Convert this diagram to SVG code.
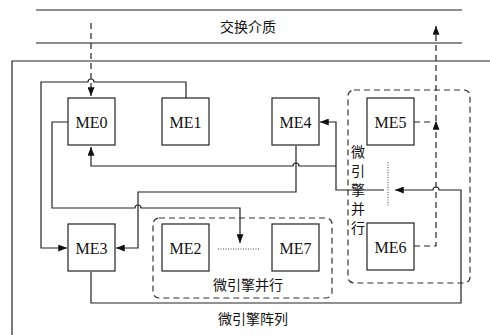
<svg xmlns="http://www.w3.org/2000/svg" width="490" height="335" viewBox="0 0 490 335">
<style>
.box{fill:#fff;stroke:#222;stroke-width:1.2}
.me{font-family:"Liberation Serif","Times New Roman","DejaVu Serif",serif;font-size:16px;fill:#111;text-anchor:middle}
.cn{font-family:"Noto Sans CJK SC",sans-serif;font-size:14px;fill:#111;text-anchor:middle}
.ln{fill:none;stroke:#222;stroke-width:1.2}
.dash{fill:none;stroke:#222;stroke-width:1.2;stroke-dasharray:6,4}
.dot{fill:none;stroke:#444;stroke-width:1;stroke-dasharray:1,1.5}
.grp{fill:none;stroke:#333;stroke-width:1.2;stroke-dasharray:6,4}
</style>
<defs>
<marker id="ah" viewBox="0 0 10 8" markerWidth="9" markerHeight="7" refX="10" refY="4" orient="auto" markerUnits="userSpaceOnUse">
<path d="M0,0 L10,4 L0,8 z" fill="#111"/>
</marker>
</defs>
<g id="medium">
<line x1="36" y1="10" x2="462" y2="10" stroke="#222" stroke-width="1.2"/>
<line x1="36" y1="43" x2="462" y2="43" stroke="#666" stroke-width="1.5"/>
<text class="cn" x="248" y="32" font-size="15">交换介质</text>
</g>
<g id="array">
<path class="ln" d="M490,61 H12 V335"/>
<text class="cn" x="253" y="324">微引擎阵列</text>
</g>
<g id="group1">
<rect class="grp" x="153" y="218" width="179" height="80" rx="6"/>
<text class="cn" x="248" y="290">微引擎并行</text>
</g>
<g id="group2">
<rect class="grp" x="348" y="90" width="122" height="193" rx="6"/>
<text class="cn" x="358" y="157">微</text>
<text class="cn" x="358" y="176">引</text>
<text class="cn" x="358" y="195">擎</text>
<text class="cn" x="358" y="214">并</text>
<text class="cn" x="358" y="233">行</text>
</g>
<g id="connectors">
<path class="dash" d="M91,23 V96" marker-end="url(#ah)"/>
<path class="ln" d="M186,98 V82 H94 a3,3 0 0 0 -6,0 H41 V248 H67" marker-end="url(#ah)"/>
<path class="ln" d="M68,122 H52 V208 H135 a3,3 0 0 1 6,0 H240 V243" marker-end="url(#ah)"/>
<path class="ln" d="M296,146 V192 H138 V248 H116" marker-end="url(#ah)"/>
<path class="ln" d="M336,166 H299 a3,3 0 0 0 -6,0 H91 V147" marker-end="url(#ah)"/>
<path class="ln" d="M384,190 H336 V122 H320" marker-end="url(#ah)"/>
<path class="ln" d="M91,272 V303 H461 V190 H439 a3,3 0 0 0 -6,0 H395" marker-end="url(#ah)"/>
<path class="dot" d="M218,249 H259"/>
<path class="dot" d="M388,162 V207"/>
<path class="dash" d="M414,122 H432"/>
<path class="dash" d="M414,246 H436 V121" marker-end="url(#ah)"/>
<path class="dash" d="M436,121 V26" marker-end="url(#ah)"/>
</g>
<g id="ME0"><rect class="box" x="68" y="98" width="47" height="47"/><text class="me" x="91.5" y="128">ME0</text></g>
<g id="ME1"><rect class="box" x="162" y="98" width="47" height="47"/><text class="me" x="185.5" y="128">ME1</text></g>
<g id="ME4"><rect class="box" x="272" y="98" width="47" height="47"/><text class="me" x="295.5" y="128">ME4</text></g>
<g id="ME5"><rect class="box" x="367" y="98" width="47" height="47"/><text class="me" x="390.5" y="128">ME5</text></g>
<g id="ME3"><rect class="box" x="68" y="224" width="47" height="47"/><text class="me" x="91.5" y="254">ME3</text></g>
<g id="ME2"><rect class="box" x="162" y="224" width="47" height="47"/><text class="me" x="185.5" y="254">ME2</text></g>
<g id="ME7"><rect class="box" x="272" y="224" width="47" height="47"/><text class="me" x="295.5" y="254">ME7</text></g>
<g id="ME6"><rect class="box" x="367" y="223" width="47" height="47"/><text class="me" x="390.5" y="253">ME6</text></g>
</svg>
